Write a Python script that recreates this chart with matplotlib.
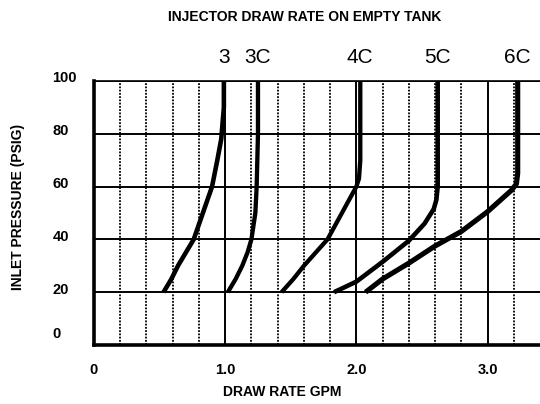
import numpy as np
import matplotlib
matplotlib.use("Agg")
import matplotlib.pyplot as plt
import matplotlib.transforms as mtransforms

plt.rcParams['font.family'] = ['Liberation Sans', 'DejaVu Sans']

# Injector models and their draw-rate curves (GPM vs inlet pressure PSIG)
models = ["3", "3C", "4C", "5C", "6C"]
rate_3 = [0.53, 0.59, 0.64, 0.70, 0.76, 0.83, 0.90, 0.94, 0.97, 0.99, 0.99]
psi_3 = [20, 25, 30, 35, 40, 50, 60, 70, 78, 90, 100]
rate_3c = [1.02, 1.08, 1.13, 1.17, 1.20, 1.23, 1.24, 1.25, 1.25]
psi_3c = [20, 25, 30, 35, 40, 50, 60, 80, 100]
rate_4c = [1.43, 1.52, 1.60, 1.69, 1.78, 1.89, 2.00, 2.02, 2.03, 2.03]
psi_4c = [20, 25, 30, 35, 40, 50, 60, 63, 70, 100]
rate_5c = [1.83, 2.00, 2.20, 2.40, 2.52, 2.59, 2.61, 2.62, 2.62]
psi_5c = [20, 24, 31.5, 39.5, 46, 51.5, 55, 60, 100]
rate_6c = [2.07, 2.20, 2.40, 2.60, 2.80, 3.00, 3.18, 3.22, 3.23, 3.23]
psi_6c = [20, 25, 31, 37.5, 43, 50.5, 58.5, 61, 65, 100]

x_major = [0, 1, 2, 3]
x_major_labels = ["0", "1.0", "2.0", "3.0"]
x_minor = [0.2, 0.4, 0.6, 0.8, 1.2, 1.4, 1.6, 1.8, 2.2, 2.4, 2.6, 2.8, 3.2]
y_ticks = [0, 20, 40, 60, 80, 100]

curves = [(rate_3, psi_3), (rate_3c, psi_3c), (rate_4c, psi_4c),
          (rate_5c, psi_5c), (rate_6c, psi_6c)]
widths = [3.3, 3.1, 3.1, 3.3, 3.7]

fig = plt.figure(figsize=(5.4, 4.04), dpi=100)
ax = fig.add_axes([94 / 540, 59 / 404, 446 / 540, 264 / 404])

ax.set_xlim(0, 3.4)
ax.set_ylim(0, 100)

ax.set_xticks(x_major)
ax.set_xticklabels(x_major_labels)
ax.set_xticks(x_minor, minor=True)
ax.set_yticks(y_ticks)
ax.set_yticklabels([str(v) for v in y_ticks])

ax.grid(which='major', color='black', lw=1.4)
ax.grid(which='minor', axis='x', color='black', lw=1.3, ls=(0, (1, 0.8)))
ax.set_axisbelow(True)

ax.tick_params(which='both', length=0)
ax.tick_params(axis='x', pad=13, labelsize=10.5)
ax.tick_params(axis='y', pad=30, labelsize=10.5)
for lab in ax.get_xticklabels():
    lab.set_fontweight('bold')
for lab in ax.get_yticklabels():
    lab.set_fontweight('bold')
    lab.set_horizontalalignment('left')
    dy = 9 if lab.get_text() == "0" else 3
    lab.set_transform(lab.get_transform() +
                      mtransforms.ScaledTranslation(0, dy / 72, fig.dpi_scale_trans))

for sp in ['left', 'bottom']:
    ax.spines[sp].set_linewidth(2.6)
ax.spines['top'].set_linewidth(1.2)
ax.spines['right'].set_visible(False)

for name, (xs, ys), w in zip(models, curves, widths):
    ax.plot(xs, ys, color='black', lw=w, solid_capstyle='butt',
            solid_joinstyle='round', clip_on=False)
    ax.annotate(name, (xs[-1], ys[-1]), xytext=(0, 10), textcoords='offset points',
                ha='center', va='bottom', fontsize=15, annotation_clip=False)

fig.text(305 / 540, 1 - 17 / 404, "INJECTOR DRAW RATE ON EMPTY TANK",
         ha='center', va='center', fontsize=10, fontweight='bold')
fig.text(282 / 540, 1 - 392 / 404, "DRAW RATE GPM",
         ha='center', va='center', fontsize=10, fontweight='bold')
fig.text(18 / 540, 1 - 207 / 404, "INLET PRESSURE (PSIG)", rotation=90,
         ha='center', va='center', fontsize=10, fontweight='bold')

fig.savefig("out.png", dpi=100)
